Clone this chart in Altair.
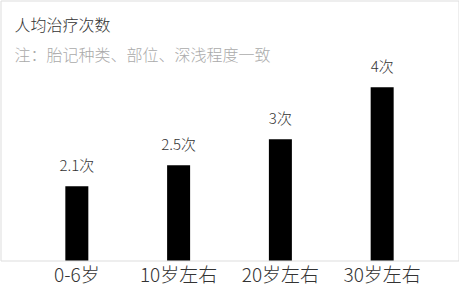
import altair as alt
import pandas as pd

categories = ["0-6岁", "10岁左右", "20岁左右", "30岁左右"]
values = [2.1, 2.5, 3, 4]
labels = ["2.1次", "2.5次", "3次", "4次"]
title_text = ["人均治疗次数"]
note_text = ["注：胎记种类、部位、深浅程度一致"]

df = pd.DataFrame({"cat": categories, "val": values, "lab": labels})

FONT = "Noto Sans CJK SC"

x = alt.X("cat:N", sort=categories,
          scale=alt.Scale(paddingInner=0, paddingOuter=0.25),
          axis=alt.Axis(title=None, labelAngle=0, ticks=False, domain=False,
                        labelFontSize=19, labelColor="#333", labelFont=FONT,
                        labelFontWeight=300, labelPadding=6))
y = alt.Y("val:Q", scale=alt.Scale(domain=[0.67, 5.67], zero=False, nice=False),
          stack=None, axis=None)

bars = alt.Chart(df).mark_bar(size=23, color="#000000").encode(x=x, y=y)
text = alt.Chart(df).mark_text(dy=-15, baseline="alphabetic", fontSize=15,
                               font=FONT, fontWeight=300, color="#333").encode(
    x=alt.X("cat:N", sort=categories), y=alt.Y("val:Q"), text="lab:N")

title = alt.Chart(pd.DataFrame({"t": title_text})).mark_text(
    align="left", baseline="alphabetic", fontSize=16, font=FONT,
    fontWeight=300, color="#333").encode(
    x=alt.value(14), y=alt.value(30), text="t:N")
note = alt.Chart(pd.DataFrame({"t": note_text})).mark_text(
    align="left", baseline="alphabetic", fontSize=16, font=FONT,
    fontWeight=300, color="#aaa").encode(
    x=alt.value(14), y=alt.value(60), text="t:N")

chart = alt.layer(bars, text, title, note).properties(
    width=458, height=260,
    padding={"left": 0.5, "top": 0.5, "right": 0.5, "bottom": 30.5},
    autosize=alt.AutoSizeParams(type="none"),
).configure_view(stroke="#a0a0a0", strokeWidth=1).configure(background="white")

chart.save("out.html", embed_options={"renderer": "svg", "actions": False})
